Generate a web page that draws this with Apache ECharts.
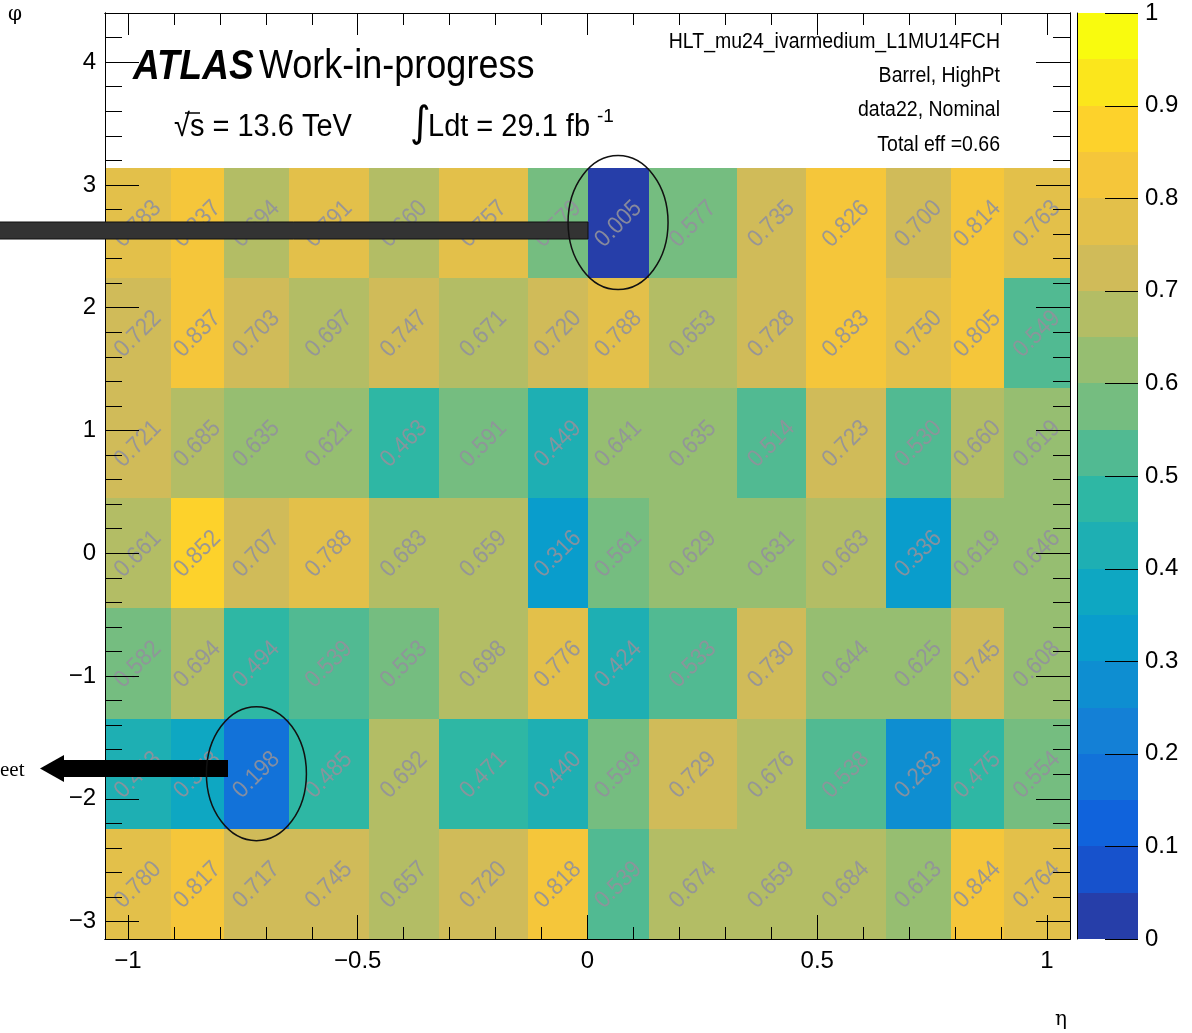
<!DOCTYPE html>
<html><head><meta charset="utf-8">
<script src="https://cdn.jsdelivr.net/npm/echarts@6/dist/echarts.min.js"></script>
<style>html,body{margin:0;padding:0;background:#fff}#c{width:1192px;height:1033px}</style>
</head><body><div id="c"></div>
<script>
// ---------------- data ----------------
const etaEdges = [-1.05, -0.907, -0.791, -0.650, -0.476, -0.324, -0.130, 0, 0.133, 0.326, 0.476, 0.650, 0.791, 0.907, 1.05];
const phiEdges = [-3.1416, -2.2440, -1.3464, -0.4488, 0.4488, 1.3464, 2.2440, 3.1416];
// efficiency per phi bin (bottom -> top), each listing the 14 eta bins left -> right
const effPhi1 = [0.780, 0.817, 0.717, 0.745, 0.657, 0.720, 0.818, 0.539, 0.674, 0.659, 0.684, 0.613, 0.844, 0.764];
const effPhi2 = [0.443, 0.378, 0.198, 0.485, 0.692, 0.471, 0.440, 0.599, 0.729, 0.676, 0.538, 0.283, 0.475, 0.554];
const effPhi3 = [0.582, 0.694, 0.494, 0.539, 0.553, 0.698, 0.776, 0.424, 0.533, 0.730, 0.644, 0.625, 0.745, 0.608];
const effPhi4 = [0.661, 0.852, 0.707, 0.788, 0.683, 0.659, 0.316, 0.561, 0.629, 0.631, 0.663, 0.336, 0.619, 0.646];
const effPhi5 = [0.721, 0.685, 0.635, 0.621, 0.463, 0.591, 0.449, 0.641, 0.635, 0.514, 0.723, 0.530, 0.660, 0.619];
const effPhi6 = [0.722, 0.837, 0.703, 0.697, 0.747, 0.671, 0.720, 0.788, 0.653, 0.728, 0.833, 0.750, 0.805, 0.549];
const effPhi7 = [0.783, 0.837, 0.694, 0.791, 0.660, 0.757, 0.579, 0.005, 0.577, 0.735, 0.826, 0.700, 0.814, 0.763];
const effRows = [effPhi1, effPhi2, effPhi3, effPhi4, effPhi5, effPhi6, effPhi7];

const etaRange = [-1.05, 1.05];
const phiRange = [-3.1416, 4.4];
const etaMajorTicks = [-1, -0.5, 0, 0.5, 1];
const etaMinorTicks = [-1, -0.9, -0.8, -0.7, -0.6, -0.5, -0.4, -0.3, -0.2, -0.1, 0, 0.1, 0.2, 0.3, 0.4, 0.5, 0.6, 0.7, 0.8, 0.9, 1];
const phiMajorTicks = [-3, -2, -1, 0, 1, 2, 3, 4];
const phiMinorTicks = [-3, -2.8, -2.6, -2.4, -2.2, -2, -1.8, -1.6, -1.4, -1.2, -1, -0.8, -0.6, -0.4, -0.2, 0, 0.2, 0.4, 0.6, 0.8, 1, 1.2, 1.4, 1.6, 1.8, 2, 2.2, 2.4, 2.6, 2.8, 3, 3.2, 3.4, 3.6, 3.8, 4, 4.2, 4.4];
const contourLevels = [0, 0.05, 0.1, 0.15, 0.2, 0.25, 0.3, 0.35, 0.4, 0.45, 0.5, 0.55, 0.6, 0.65, 0.7, 0.75, 0.8, 0.85, 0.9, 0.95, 1];
const zTickLabels = [0, 0.1, 0.2, 0.3, 0.4, 0.5, 0.6, 0.7, 0.8, 0.9, 1];

// ---------------- palette (ROOT kBird) ----------------
const birdStops = [0, 0.125, 0.25, 0.375, 0.5, 0.625, 0.75, 0.875, 1];
const birdR = [0.2082, 0.0592, 0.0780, 0.0232, 0.1802, 0.5301, 0.8186, 0.9956, 0.9764];
const birdG = [0.1664, 0.3599, 0.5041, 0.6419, 0.7178, 0.7492, 0.7328, 0.7862, 0.9832];
const birdB = [0.5293, 0.8684, 0.8385, 0.7914, 0.6425, 0.4662, 0.3499, 0.1968, 0.0539];
function birdColor(f) {
  f = Math.max(0, Math.min(1, f));
  let k = 0;
  while (k < birdStops.length - 2 && f > birdStops[k + 1]) k++;
  const t = (f - birdStops[k]) / (birdStops[k + 1] - birdStops[k]);
  const c = a => Math.round(255 * (a[k] + t * (a[k + 1] - a[k])));
  return 'rgb(' + c(birdR) + ',' + c(birdG) + ',' + c(birdB) + ')';
}
function bandIndex(v) {
  const n = contourLevels.length - 1;
  let k = 0;
  while (k < n - 1 && v >= contourLevels[k + 1]) k++;
  return k;
}
function bandColor(k) {
  const n = contourLevels.length - 1;
  return birdColor((k + 0.99) / n);
}

const FONT = '"Liberation Sans", Arial, Helvetica, sans-serif';
const fmtMinus = v => String(v).replace('-', '\u2212');

const cells = [];
effRows.forEach((row, j) => row.forEach((v, i) => {
  cells.push([etaEdges[i], etaEdges[i + 1], phiEdges[j], phiEdges[j + 1], v]);
}));
const bands = [];
for (let k = 0; k < contourLevels.length - 1; k++) bands.push([0, 1, contourLevels[k], contourLevels[k + 1], k]);
const zTicks = zTickLabels.map(v => [1, v]);

function xAx(pos, ticks, len, labels) {
  return {
    type: 'value', gridIndex: 0, position: pos, min: etaRange[0], max: etaRange[1], z: 10,
    axisLine: {show: true, onZero: false, lineStyle: {color: '#000', width: 1}},
    axisTick: {show: true, inside: true, length: len, customValues: ticks, lineStyle: {color: '#000', width: 1}},
    axisLabel: labels ? {show: true, customValues: etaMajorTicks, formatter: fmtMinus, color: '#000', fontSize: 24, fontFamily: FONT, margin: 10} : {show: false},
    splitLine: {show: false}
  };
}
function yAx(pos, ticks, len, labels) {
  return {
    type: 'value', gridIndex: 0, position: pos, min: phiRange[0], max: phiRange[1], z: 10,
    axisLine: {show: true, onZero: false, lineStyle: {color: '#000', width: 1}},
    axisTick: {show: true, inside: true, length: len, customValues: ticks, lineStyle: {color: '#000', width: 1}},
    axisLabel: labels ? {show: true, customValues: phiMajorTicks, formatter: fmtMinus, color: '#000', fontSize: 24, fontFamily: FONT, margin: 9} : {show: false},
    splitLine: {show: false}
  };
}

const chart = echarts.init(document.getElementById('c'), null, {renderer: 'canvas'});

const option = {
  animation: false,
  backgroundColor: '#fff',
  grid: [
    {left: 105, top: 13, width: 965, height: 926, show: false},
    {left: 1077, top: 13, width: 61, height: 926, show: false}
  ],
  xAxis: [
    xAx('bottom', etaMajorTicks, 24, true),
    xAx('bottom', etaMinorTicks, 12, false),
    xAx('top', etaMajorTicks, 22, false),
    xAx('top', etaMinorTicks, 12, false),
    {type: 'value', gridIndex: 1, min: 0, max: 1, show: false}
  ],
  yAxis: [
    yAx('left', phiMajorTicks, 34, true),
    yAx('left', phiMinorTicks, 17, false),
    yAx('right', phiMajorTicks, 34, false),
    yAx('right', phiMinorTicks, 17, false),
    {
      type: 'value', gridIndex: 1, position: 'right', min: 0, max: 1, interval: 0.1, z: 10,
      axisLine: {show: true, lineStyle: {color: '#000', width: 1}},
      axisTick: {show: false},
      axisLabel: {show: true, color: '#000', fontSize: 24, fontFamily: FONT, margin: 7,
        formatter: v => String(zTickLabels[Math.round(v * 10)])},
      splitLine: {show: false}
    }
  ],
  series: [
    {
      type: 'custom', xAxisIndex: 0, yAxisIndex: 0, data: cells, silent: true,
      encode: {x: [0, 1], y: [2, 3]},
      renderItem: function (params, api) {
        const a = api.coord([api.value(0), api.value(3)]);
        const b = api.coord([api.value(1), api.value(2)]);
        const v = api.value(4);
        const x0 = Math.round(a[0]), y0 = Math.round(a[1]);
        const x1 = Math.round(b[0]), y1 = Math.round(b[1]);
        return {
          type: 'group', children: [
            {type: 'rect', shape: {x: x0, y: y0, width: x1 - x0, height: y1 - y0}, style: {fill: bandColor(bandIndex(v))}},
            {type: 'text', x: (x0 + x1) / 2, y: (y0 + y1) / 2 + 1, rotation: Math.PI / 4, scaleY: 1.1, z2: 100,
              style: {text: v.toFixed(3), fill: 'rgba(145,145,155,0.9)', font: '22px ' + FONT, align: 'center', verticalAlign: 'middle'}}
          ]
        };
      }
    },
    {
      type: 'custom', xAxisIndex: 4, yAxisIndex: 4, data: bands, silent: true,
      encode: {x: [0, 1], y: [2, 3]},
      renderItem: function (params, api) {
        const a = api.coord([api.value(0), api.value(3)]);
        const b = api.coord([api.value(1), api.value(2)]);
        const x0 = Math.round(a[0]), y0 = Math.round(a[1]);
        const x1 = Math.round(b[0]), y1 = Math.round(b[1]);
        return {type: 'rect', shape: {x: x0, y: y0, width: x1 - x0, height: y1 - y0}, style: {fill: bandColor(api.value(4))}};
      }
    },
    {
      type: 'custom', xAxisIndex: 4, yAxisIndex: 4, data: zTicks, silent: true, z: 5,
      encode: {x: 0, y: 1},
      renderItem: function (params, api) {
        const p = api.coord([api.value(0), api.value(1)]);
        const y = Math.round(p[1]) + 0.5;
        return {type: 'line', shape: {x1: p[0] - 33, y1: y, x2: p[0], y2: y}, style: {stroke: '#000', lineWidth: 1}};
      }
    }
  ]
};
chart.setOption(option);

// annotations (ellipses centred on the two circled cells)
function cellCenter(i, j) {
  return chart.convertToPixel({gridIndex: 0}, [(etaEdges[i] + etaEdges[i + 1]) / 2, (phiEdges[j] + phiEdges[j + 1]) / 2]);
}
const cTop = cellCenter(7, 6);
const cBot = cellCenter(2, 1);

chart.setOption({
  graphic: [
    // labels / titles
    {type: 'text', left: 133, top: 46, scaleY: 1.15, z: 50, style: {text: 'ATLAS', font: 'italic bold 37px ' + FONT, fill: '#000'}},
    {type: 'text', left: 259, top: 46, scaleY: 1.15, z: 50, style: {text: 'Work-in-progress', font: '36px ' + FONT, fill: '#000'}},
    {type: 'text', left: 174, top: 111, scaleY: 1.1, z: 50, style: {text: '\u221As = 13.6 TeV', font: '29px ' + FONT, fill: '#000'}},
    {type: 'line', z: 50, shape: {x1: 185, y1: 113, x2: 200, y2: 113}, style: {stroke: '#000', lineWidth: 1.5}},
    {type: 'text', left: 410, top: 104, scaleY: 1.05, z: 50, style: {text: '\u222B', font: '40px "DejaVu Sans", ' + FONT, fill: '#000'}},
    {type: 'text', left: 428, top: 111, scaleY: 1.1, z: 50, style: {text: 'Ldt = 29.1 fb', font: '29px ' + FONT, fill: '#000'}},
    {type: 'text', left: 597, top: 107, z: 50, style: {text: '-1', font: '19px ' + FONT, fill: '#000'}},
    {type: 'text', right: 192, top: 31, scaleY: 1.1, z: 50, style: {text: 'HLT_mu24_ivarmedium_L1MU14FCH', font: '19.5px ' + FONT, fill: '#000'}},
    {type: 'text', right: 192, top: 65, scaleY: 1.1, z: 50, style: {text: 'Barrel, HighPt', font: '19.5px ' + FONT, fill: '#000'}},
    {type: 'text', right: 192, top: 99, scaleY: 1.1, z: 50, style: {text: 'data22, Nominal', font: '19.5px ' + FONT, fill: '#000'}},
    {type: 'text', right: 192, top: 134, scaleY: 1.1, z: 50, style: {text: 'Total eff =0.66', font: '19.5px ' + FONT, fill: '#000'}},
    {type: 'text', left: 8, top: 5, z: 50, style: {text: '\u03C6', font: '20px "DejaVu Serif", serif', fill: '#000'}},
    {type: 'text', left: 1055, top: 1010, z: 50, style: {text: '\u03B7', font: '20px "DejaVu Serif", serif', fill: '#000'}},
    // ellipses
    {type: 'ellipse', z: 60, shape: {cx: cTop[0], cy: cTop[1], rx: 50, ry: 67}, style: {fill: 'none', stroke: '#111', lineWidth: 1.5}},
    {type: 'ellipse', z: 60, shape: {cx: cBot[0], cy: cBot[1], rx: 50, ry: 67}, style: {fill: 'none', stroke: '#111', lineWidth: 1.5}},
    // arrows
    {type: 'rect', z: 55, shape: {x: -2, y: 222, width: 590, height: 17}, style: {fill: '#333', stroke: '#111', lineWidth: 1}},
    {type: 'rect', z: 55, shape: {x: 62, y: 760, width: 166, height: 17}, style: {fill: '#000'}},
    {type: 'polygon', z: 55, shape: {points: [[40, 768.5], [64, 755], [64, 782]]}, style: {fill: '#000'}},
    {type: 'text', left: 0, top: 760, z: 50, style: {text: 'eet', font: '21px "Liberation Serif", "DejaVu Serif", serif', fill: '#000'}}
  ]
});
</script>
</body></html>
